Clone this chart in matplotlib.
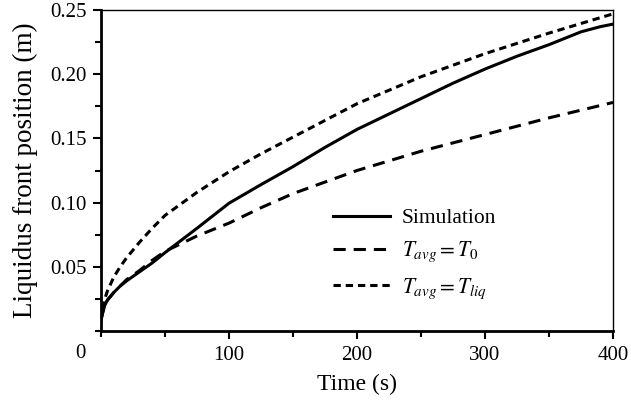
import matplotlib
matplotlib.use('Agg')
import matplotlib.pyplot as plt
import numpy as np

plt.rcParams['font.family'] = ['Liberation Serif', 'DejaVu Serif']
plt.rcParams['mathtext.fontset'] = 'stix'
plt.rcParams['font.size'] = 15

# values
t_sim = [0, 1, 3, 5, 10, 15, 20, 30, 40, 50, 75, 100, 125, 150, 175, 200, 225, 250,
         275, 300, 325, 350, 375, 390, 400]
sim = [0.008, 0.013, 0.020, 0.024, 0.030, 0.035, 0.039, 0.046, 0.053, 0.061, 0.080,
       0.0995, 0.114, 0.128, 0.143, 0.157, 0.169, 0.181, 0.193, 0.204, 0.214, 0.223,
       0.233, 0.237, 0.239]

t_t0 = [0, 1, 3, 5, 10, 15, 20, 30, 40, 50, 75, 100, 125, 150, 175, 200, 250, 300,
        350, 400]
t0 = [0.008, 0.013, 0.020, 0.024, 0.030, 0.035, 0.040, 0.047, 0.055, 0.062, 0.074,
      0.084, 0.096, 0.107, 0.116, 0.125, 0.140, 0.153, 0.166, 0.178]

t_liq = [0, 1, 3, 5, 10, 15, 20, 30, 40, 50, 75, 100, 125, 150, 175, 200, 250, 300,
         350, 400]
liq = [0.008, 0.015, 0.025, 0.031, 0.042, 0.050, 0.057, 0.069, 0.080, 0.090, 0.108,
       0.124, 0.138, 0.151, 0.164, 0.177, 0.198, 0.216, 0.232, 0.247]

xticks = [100, 200, 300, 400]
yticks = [0.05, 0.10, 0.15, 0.20, 0.25]

fig = plt.figure(figsize=(6.31, 4.0), dpi=100)
ax = fig.add_axes([0.160, 0.1725, 0.8115, 0.8025])

ax.plot(t_sim, sim, color='black', lw=2.2, label='Simulation')
ax.plot(t_t0, t0, color='black', lw=2.2, dashes=(4, 2.6), label=r'$T_{avg} = T_0$')
ax.plot(t_liq, liq, color='black', lw=2.2, dashes=(2.4, 1.6), label=r'$T_{avg} = T_{liq}$')

ax.set_xlim(0, 400)
ax.set_ylim(0, 0.25)
ax.set_xticks(xticks)
ax.set_xticklabels([str(v) for v in xticks])
ax.set_yticks(yticks)
ax.set_yticklabels(['%.2f' % v for v in yticks])
ax.set_xticks(np.arange(0, 401, 50), minor=True)
ax.set_yticks(np.arange(0, 0.251, 0.025), minor=True)
ax.tick_params(which='both', direction='out', width=1.5, labelsize=15)
ax.tick_params(which='major', length=6, pad=5)
ax.tick_params(which='minor', length=4)
ax.tick_params(axis='y', pad=4)
ax.text(-0.04, -0.07, '0', transform=ax.transAxes, ha='center', va='center', fontsize=15)

for s in ['left', 'bottom']:
    ax.spines[s].set_linewidth(2)
for s in ['top', 'right']:
    ax.spines[s].set_linewidth(1)

ax.set_xlabel('Time (s)', fontsize=17, labelpad=6)
ax.set_ylabel('Liquidus front position (m)', fontsize=19.5, labelpad=9)

ax.legend(loc='upper left', bbox_to_anchor=(333 / 631, 1 - 208 / 400),
          bbox_transform=fig.transFigure, frameon=False, fontsize=15.5,
          borderpad=0, borderaxespad=0, handlelength=2.65, labelspacing=0.55,
          handletextpad=0.55)

fig.savefig('out.png', dpi=100)
